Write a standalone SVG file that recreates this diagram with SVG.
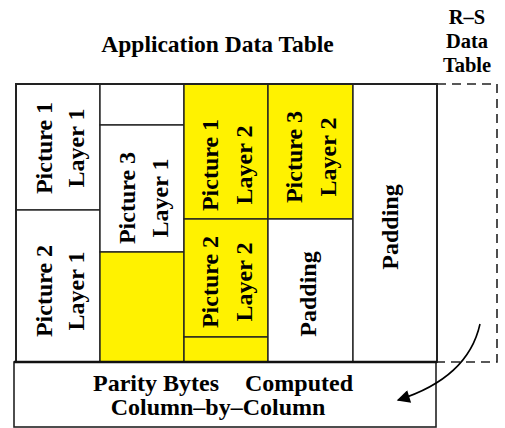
<svg xmlns="http://www.w3.org/2000/svg" width="505" height="428" viewBox="0 0 505 428">
  <style>
    .cell { stroke: #222; stroke-width: 1.4; }
    .w { fill: #ffffff; }
    .y { fill: #fff200; }
    .lbl { font-family: "Liberation Serif", "Times New Roman", serif; font-weight: bold; font-size: 24px; fill: #000; text-anchor: middle; }
    .rs { font-size: 20.5px; }
    .frame { fill: none; stroke: #222; stroke-width: 2; }
    .dash { fill: none; stroke: #222; stroke-width: 1.6; stroke-dasharray: 9 6; }
    .conn { fill: none; stroke: #000; stroke-width: 1.6; }
  </style>
  <defs>
    <marker id="arrowhead" viewBox="0 0 10 10" refX="9" refY="5" markerWidth="28" markerHeight="13" markerUnits="userSpaceOnUse" orient="auto">
      <path d="M0,0 L10,5 L0,10 Z" fill="#000"/>
    </marker>
  </defs>

  <rect width="505" height="428" fill="#ffffff"/>

  <!-- titles -->
  <g id="title-app">
    <text class="lbl" x="217.5" y="52" style="font-size:23.5px">Application Data Table</text>
  </g>
  <g id="title-rs">
    <text class="lbl rs" x="467" y="24">R–S</text>
    <text class="lbl rs" x="467" y="48">Data</text>
    <text class="lbl rs" x="467" y="72">Table</text>
  </g>

  <!-- R-S data table outline -->
  <g id="rs-table">
    <path class="dash" d="M437,84 H497 V362 H437"/>
  </g>

  <!-- column 1 -->
  <g id="pic1-layer1">
    <rect class="cell w" x="16" y="84" width="84" height="126"/>
    <text class="lbl" transform="translate(52,148) rotate(-90)">Picture 1</text>
    <text class="lbl" transform="translate(84,148) rotate(-90)">Layer 1</text>
  </g>
  <g id="pic2-layer1">
    <rect class="cell w" x="16" y="210" width="84" height="152"/>
    <text class="lbl" transform="translate(52,291) rotate(-90)">Picture 2</text>
    <text class="lbl" transform="translate(84,291) rotate(-90)">Layer 1</text>
  </g>

  <!-- column 2 -->
  <g id="col2-top">
    <rect class="cell w" x="100" y="84" width="84" height="41"/>
  </g>
  <g id="pic3-layer1">
    <rect class="cell w" x="100" y="125" width="84" height="127"/>
    <text class="lbl" transform="translate(135,198) rotate(-90)">Picture 3</text>
    <text class="lbl" transform="translate(168,198) rotate(-90)">Layer 1</text>
  </g>
  <g id="col2-fill">
    <rect class="cell y" x="100" y="252" width="84" height="110"/>
  </g>

  <!-- column 3 -->
  <g id="pic1-layer2">
    <rect class="cell y" x="184" y="84" width="84" height="135"/>
    <text class="lbl" transform="translate(218,165) rotate(-90)">Picture 1</text>
    <text class="lbl" transform="translate(252,165) rotate(-90)">Layer 2</text>
  </g>
  <g id="pic2-layer2">
    <rect class="cell y" x="184" y="219" width="84" height="118"/>
    <text class="lbl" transform="translate(218,282) rotate(-90)">Picture 2</text>
    <text class="lbl" transform="translate(252,282) rotate(-90)">Layer 2</text>
  </g>
  <g id="col3-fill">
    <rect class="cell y" x="184" y="337" width="84" height="25"/>
  </g>

  <!-- column 4 -->
  <g id="pic3-layer2">
    <rect class="cell y" x="268" y="84" width="85" height="135"/>
    <text class="lbl" transform="translate(302,157) rotate(-90)">Picture 3</text>
    <text class="lbl" transform="translate(336,157) rotate(-90)">Layer 2</text>
  </g>
  <g id="padding-col4">
    <rect class="cell w" x="268" y="219" width="85" height="143"/>
    <text class="lbl" transform="translate(316,294) rotate(-90)">Padding</text>
  </g>

  <!-- column 5 -->
  <g id="padding-col5">
    <rect class="cell w" x="353" y="84" width="84" height="278"/>
    <text class="lbl" transform="translate(398,227) rotate(-90)">Padding</text>
  </g>

  <!-- outer frame of the application table -->
  <rect class="frame" x="16" y="84" width="421" height="278"/>

  <!-- parity rows -->
  <g id="parity">
    <rect x="14" y="362" width="422" height="65" fill="#ffffff" stroke="#222" stroke-width="1.6"/>
    <line x1="14" y1="362" x2="437" y2="362" stroke="#111" stroke-width="2.4"/>
    <text class="lbl" x="93" y="391" style="text-anchor:start">Parity Bytes</text>
    <text class="lbl" x="245" y="391" style="text-anchor:start">Computed</text>
    <text class="lbl" x="218" y="415">Column–by–Column</text>
  </g>

  <!-- connectors -->
  <g id="connectors">
    <path class="conn" d="M480,324 Q468,378 398,400" marker-end="url(#arrowhead)"/>
  </g>
</svg>
